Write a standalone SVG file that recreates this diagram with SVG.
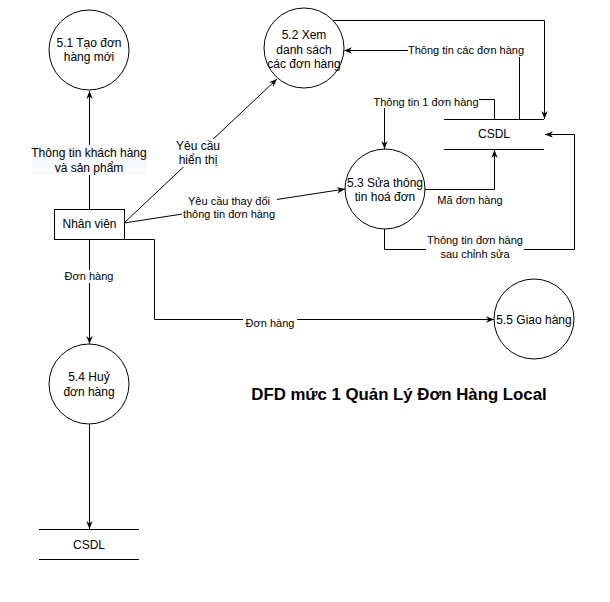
<svg xmlns="http://www.w3.org/2000/svg" width="610" height="602" viewBox="0 0 610 602">
<style>
.n{fill:#fff;stroke:#000;stroke-width:1}
.t{font-family:"Liberation Sans",Arial,sans-serif;font-size:12px;fill:#000;text-anchor:middle}
.l{font-family:"Liberation Sans",Arial,sans-serif;font-size:11px;fill:#000;text-anchor:middle}
.ttl{font-family:"Liberation Sans",Arial,sans-serif;font-size:16.8px;font-weight:bold;fill:#000;text-anchor:middle}
.e{fill:none;stroke:#000;stroke-width:1;marker-end:url(#a)}
.s{stroke:#000;stroke-width:1}
.bg{fill:#fff}
</style>
<defs>
<marker id="a" viewBox="0 0 10 10" refX="10" refY="5" markerWidth="8" markerHeight="8" markerUnits="userSpaceOnUse" orient="auto">
<path d="M0,1 L10,5 L0,9 L3,5 z" fill="#000"/>
</marker>
</defs>
<rect width="610" height="602" fill="#fff"/>
<g id="connectors">
<path class="e" d="M89.5,209 L89.5,91"/>
<path class="e" d="M124,223 L277,79"/>
<path class="e" d="M124,223 L345,189"/>
<path class="e" d="M89.5,239 L89.5,344"/>
<path class="e" d="M124,239.5 L154.5,239.5 L154.5,319.5 L494,319.5"/>
<path class="e" d="M333,20.5 L544.5,20.5 L544.5,119"/>
<path class="e" d="M519.5,119 L519.5,50.5 L344,50.5"/>
<path class="e" d="M494.5,119 L494.5,99.5 L384.5,99.5 L384.5,149"/>
<path class="e" d="M425,189.5 L494.5,189.5 L494.5,150"/>
<path class="e" d="M384.5,229 L384.5,249.5 L574.5,249.5 L574.5,134.5 L545,134.5"/>
<path class="e" d="M89.5,424 L89.5,529"/>
<g id="labels">
<rect x="32" y="145" width="115" height="30" fill="#f8f9fa"/>
<text class="t" x="89" y="157">Thông tin khách hàng</text>
<text class="t" x="89" y="172">và sản phẩm</text>
<rect class="bg" x="176" y="139" width="44" height="28"/>
<text class="t" x="198" y="150">Yêu cầu</text>
<text class="t" x="198" y="164">hiển thị</text>
<rect class="bg" x="182" y="194" width="95" height="26"/>
<text class="l" x="229" y="205">Yêu cầu thay đổi</text>
<text class="l" x="229" y="218">thông tin đơn hàng</text>
<rect class="bg" x="408" y="44" width="117" height="13"/>
<text class="l" x="466" y="54">Thông tin các đơn hàng</text>
<rect class="bg" x="372" y="95" width="107" height="13"/>
<text class="l" x="426" y="106">Thông tin 1 đơn hàng</text>
<text class="l" x="470" y="204">Mã đơn hàng</text>
<rect class="bg" x="426" y="234" width="98" height="26"/>
<text class="l" x="475" y="244">Thông tin đơn hàng</text>
<text class="l" x="475" y="258">sau chỉnh sửa</text>
<rect class="bg" x="62" y="270" width="54" height="13"/>
<text class="l" x="89" y="280">Đơn hàng</text>
<rect class="bg" x="243" y="314" width="54" height="13"/>
<text class="l" x="270" y="327">Đơn hàng</text>
</g>
</g>
<g id="p51">
<circle class="n" cx="89" cy="50" r="40"/>
<text class="t" x="89" y="47">5.1 Tạo đơn</text>
<text class="t" x="89" y="61">hàng mới</text>
</g>
<g id="p52">
<circle class="n" cx="304" cy="48" r="40"/>
<text class="t" x="304" y="39">5.2 Xem</text>
<text class="t" x="304" y="54">danh sách</text>
<text class="t" x="304" y="68">các đơn hàng</text>
</g>
<g id="p53">
<circle class="n" cx="385" cy="189" r="40"/>
<text class="t" x="385" y="187">5.3 Sửa thông</text>
<text class="t" x="385" y="201">tin hoá đơn</text>
</g>
<g id="p54">
<circle class="n" cx="89" cy="384" r="40"/>
<text class="t" x="89" y="381">5.4 Huỷ</text>
<text class="t" x="89" y="396">đơn hàng</text>
</g>
<g id="p55">
<circle class="n" cx="534" cy="319" r="40"/>
<text class="t" x="534" y="324">5.5 Giao hàng</text>
</g>
<g id="nhanvien">
<rect class="n" x="54.5" y="209.5" width="70" height="30"/>
<text class="t" x="89.5" y="228">Nhân viên</text>
</g>
<g id="csdl1">
<line class="s" x1="444" y1="119.5" x2="544" y2="119.5"/>
<line class="s" x1="444" y1="149.5" x2="544" y2="149.5"/>
<text class="t" x="494" y="138">CSDL</text>
</g>
<g id="csdl2">
<line class="s" x1="39" y1="529.5" x2="139" y2="529.5"/>
<line class="s" x1="39" y1="559.5" x2="139" y2="559.5"/>
<text class="t" x="89" y="549">CSDL</text>
</g>
<text class="ttl" x="399" y="400">DFD mức 1 Quản Lý Đơn Hàng Local</text>
</svg>
